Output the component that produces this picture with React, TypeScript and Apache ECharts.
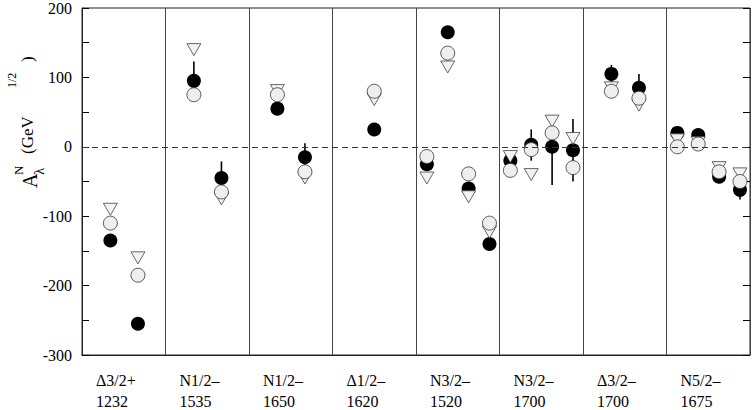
import React, { useEffect, useRef } from 'react';
import * as echarts from 'echarts';

// resonance panels (one per x unit)
const states = ['Δ3/2+', 'N1/2–', 'N1/2–', 'Δ1/2–', 'N3/2–', 'N3/2–', 'Δ3/2–', 'N5/2–'];
const masses = ['1232', '1535', '1650', '1620', '1520', '1700', '1700', '1675'];

// x position of every amplitude column (panel index + offset in panel)
const xPos = [
  0.34, 0.67, 1.34, 1.67, 2.34, 2.67, 3.5, 4.13, 4.38, 4.63, 4.88, 5.13, 5.38, 5.63, 5.88, 6.34, 6.67,
  7.13, 7.38, 7.63, 7.88,
];

// experiment (filled circles) with error bars
const expValues = [-135, -255, 95, -45, 55, -15, 25, -25, 165, -60, -140, -20, 3, 0, -5, 105, 85, 20, 17, -43, -62];
const expErrUp = [0, 0, 28, 24, 0, 20, 0, 0, 0, 0, 0, 0, 22, 30, 45, 13, 20, 0, 0, 0, 14];
const expErrDown = [0, 0, 28, 24, 0, 20, 0, 0, 0, 0, 0, 0, 23, 55, 45, 13, 20, 0, 0, 0, 14];

// model 1 (grey circles)
const modelA = [-110, -185, 75, -65, 75, -36, 80, -14, 135, -39, -110, -34, -4, 20, -30, 80, 70, 0, 4, -36, -50];
// model 2 (open triangles)
const modelB = [-90, -160, 140, -75, 81, -45, 68, -45, 115, -72, -123, -14, -40, 37, 12, 85, 60, 10, 6, -30, -39];

const FONT = 'Liberation Serif';

const App: React.FC = () => {
  const chartRef = useRef<HTMLDivElement>(null);

  useEffect(() => {
    if (!chartRef.current) return;
    const chart = echarts.init(chartRef.current, undefined, { renderer: 'svg' });

    const errData = xPos
      .map((x, i) => [x, expValues[i] - expErrDown[i], expValues[i] + expErrUp[i]])
      .filter((_, i) => expErrUp[i] > 0 || expErrDown[i] > 0);

    const axisTickStyle = { show: true, inside: true, length: 7, lineStyle: { color: '#000', width: 1 } };
    const minorTickStyle = { show: true, splitNumber: 2, length: 7, lineStyle: { color: '#000', width: 1 } };

    const txt = (text: string, x: number, y: number, size: number) => ({
      type: 'text',
      x,
      y,
      style: { text, font: `${size}px ${FONT}`, fill: '#000', textAlign: 'left', textVerticalAlign: 'middle' },
    });

    const option: any = {
      animation: false,
      grid: {
        left: 82,
        right: 2,
        top: 8,
        bottom: 55,
        outerBoundsMode: 'none',
        show: true,
        borderColor: '#222',
        borderWidth: 1,
      },
      xAxis: {
        type: 'value',
        min: 0,
        max: 8,
        interval: 1,
        axisLine: { show: true, onZero: false, lineStyle: { color: '#222' } },
        axisTick: { show: false },
        splitLine: { show: true, lineStyle: { color: '#444', width: 1 } },
        axisLabel: {
          margin: 15,
          align: 'left',
          padding: [0, 0, 0, 14],
          fontFamily: FONT,
          fontSize: 16,
          lineHeight: 21,
          color: '#000',
          formatter: (v: number) => (v < states.length ? `${states[v]}\n${masses[v]}` : ''),
        },
      },
      yAxis: [
        {
          type: 'value',
          min: -300,
          max: 200,
          interval: 100,
          axisLine: { show: true, onZero: false, lineStyle: { color: '#222' } },
          axisTick: axisTickStyle,
          minorTick: minorTickStyle,
          splitLine: { show: false },
          axisLabel: { margin: 10, fontFamily: FONT, fontSize: 16, color: '#000' },
        },
        {
          type: 'value',
          position: 'right',
          min: -300,
          max: 200,
          interval: 100,
          axisLine: { show: false, onZero: false },
          axisTick: axisTickStyle,
          minorTick: minorTickStyle,
          splitLine: { show: false },
          axisLabel: { show: false },
        },
      ],
      graphic: [
        {
          type: 'group',
          x: 30,
          y: 188,
          rotation: Math.PI / 2,
          children: [
            txt('A', 0, 0, 20),
            txt('N', 13, -12, 13),
            txt('λ', 13, 9, 15),
            txt('(GeV', 34, -3, 17),
            txt('1/2', 100, -18, 12),
            txt(')', 126, -3, 17),
          ],
        },
      ],
      series: [
        {
          type: 'scatter',
          data: [],
          z: 0,
          markLine: {
            silent: true,
            symbol: 'none',
            label: { show: false },
            lineStyle: { color: '#333', type: [6, 4], width: 1 },
            data: [{ yAxis: 0 }],
          },
        },
        {
          type: 'custom',
          z: 1,
          data: errData,
          encode: { x: 0, y: [1, 2] },
          renderItem: (_params: any, api: any) => {
            const lo = api.coord([api.value(0), api.value(1)]);
            const hi = api.coord([api.value(0), api.value(2)]);
            return {
              type: 'line',
              shape: { x1: lo[0], y1: lo[1], x2: hi[0], y2: hi[1] },
              style: { stroke: '#000', lineWidth: 1.6 },
            };
          },
        },
        {
          type: 'scatter',
          z: 2,
          symbol: 'circle',
          symbolSize: 14,
          itemStyle: { color: '#000', opacity: 1 },
          data: xPos.map((x, i) => [x, expValues[i]]),
        },
        {
          type: 'scatter',
          z: 3,
          symbol: 'triangle',
          symbolRotate: 180,
          symbolSize: [14, 12],
          itemStyle: { color: '#f2f2f2', borderColor: '#444', borderWidth: 0.8, opacity: 1 },
          data: xPos.map((x, i) => [x, modelB[i]]),
        },
        {
          type: 'scatter',
          z: 4,
          symbol: 'circle',
          symbolSize: 14,
          itemStyle: { color: '#eeeeee', borderColor: '#333', borderWidth: 0.8, opacity: 1 },
          data: xPos.map((x, i) => [x, modelA[i]]),
        },
      ],
    };

    chart.setOption(option);

    return () => {
      chart.dispose();
    };
  }, []);

  return (
    <div
      ref={chartRef}
      style={{ position: 'absolute', left: 0, top: 0, width: '752px', height: '410px', background: '#fff' }}
    />
  );
};

export default App;
